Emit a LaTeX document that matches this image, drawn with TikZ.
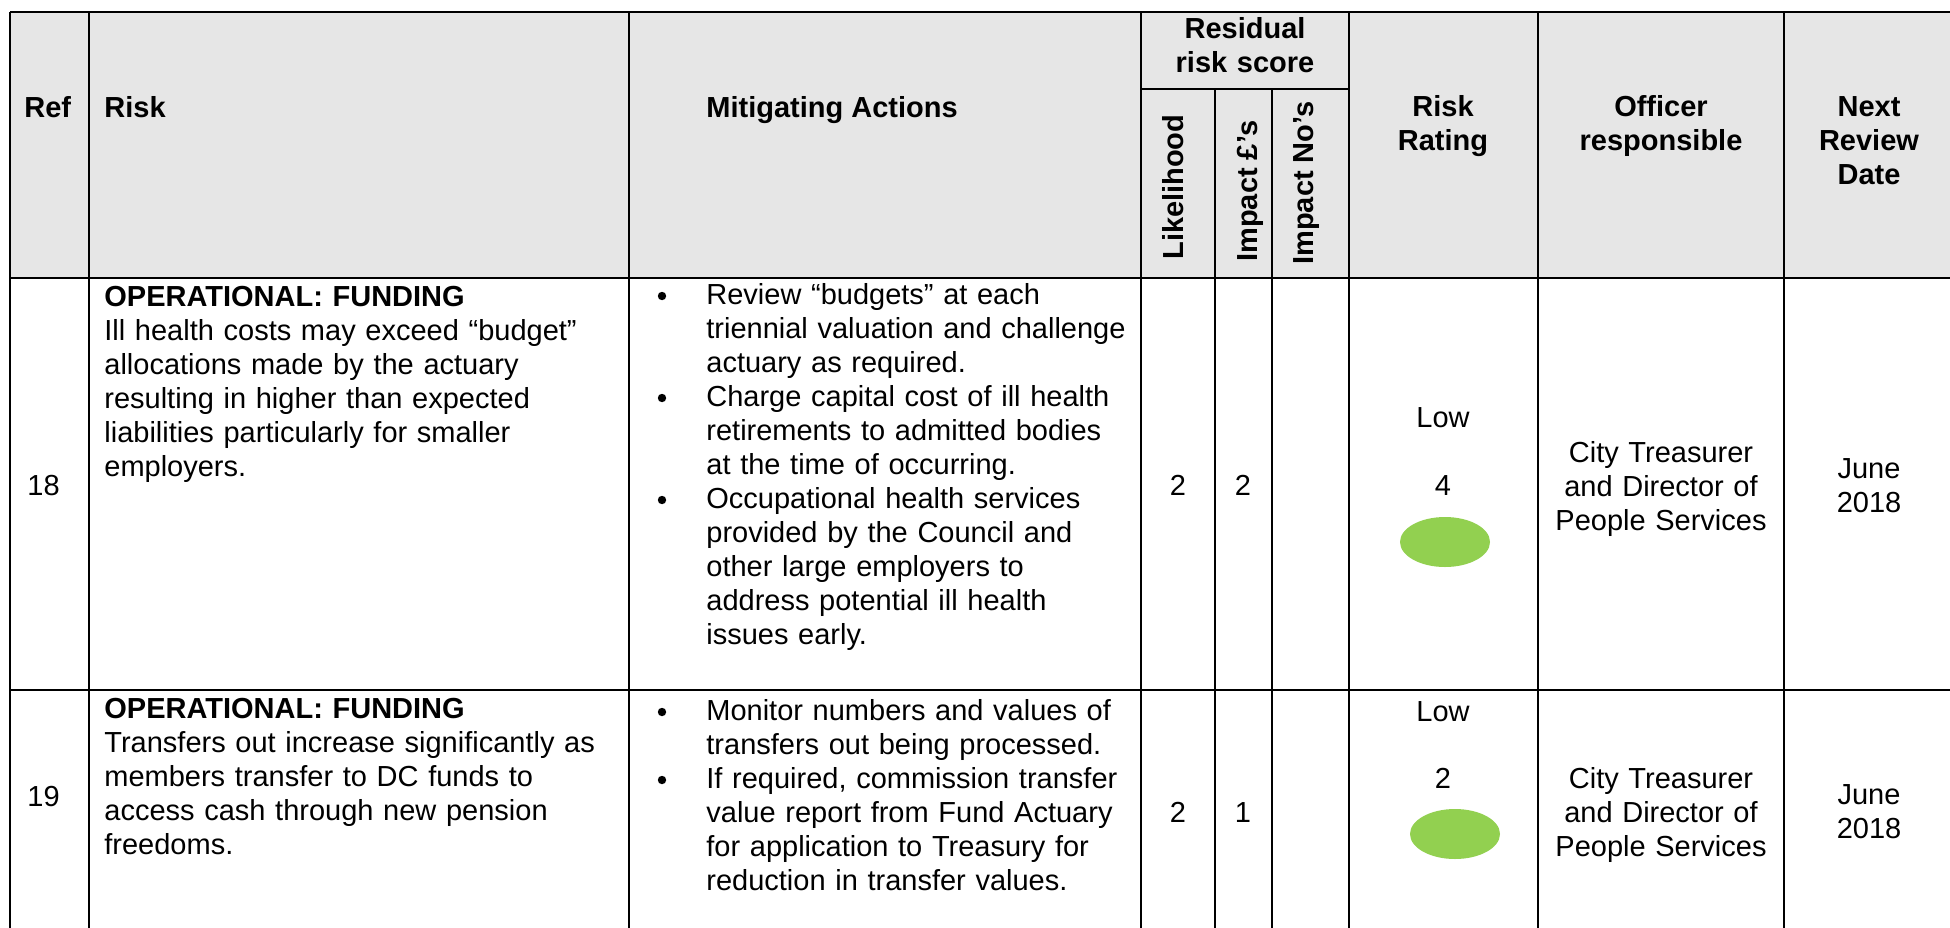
\documentclass[tikz,border=0pt]{standalone}
\usepackage{fontspec}
\setmainfont{Liberation Sans}
\usetikzlibrary{shapes.geometric}
\definecolor{hdrgray}{RGB}{230,230,230}
\definecolor{lowgreen}{RGB}{146,208,80}
\newcommand\tfs{\fontsize{14.5pt}{17pt}\selectfont}
\begin{document}
\begin{tikzpicture}[x=0.5pt,y=-0.5pt,
  gridline/.style={line width=1pt, black},
  cell/.style={inner sep=0pt, font=\tfs},
  hd/.style={cell, font=\tfs\bfseries},
  para/.style={cell, anchor=base west, align=left, text width=300pt},
  ctr/.style={cell, anchor=base, align=center, text width=120pt},
  hctr/.style={ctr, font=\tfs\bfseries},
  vhd/.style={hd, rotate=90, anchor=base west},
  bul/.style={circle, fill=black, draw=none, inner sep=0pt, minimum size=4.2pt},
  lowdot/.style={ellipse, fill=lowgreen, draw=none, inner sep=0pt, minimum width=45pt, minimum height=25pt}
]
\clip (0,0) rectangle (1950,927);
\fill[white] (0,0) rectangle (1950,927);
% header background
\fill[hdrgray] (10,12) rectangle (1960,278);
% grid
\draw[gridline] (10,12) -- (1960,12);
\draw[gridline] (10,278) -- (1960,278);
\draw[gridline] (10,690) -- (1960,690);
\draw[gridline] (1141,89) -- (1349,89);
\foreach \xx in {10,89,629,1141,1349,1538,1784}
  \draw[gridline] (\xx,12) -- (\xx,940);
\foreach \xx in {1215,1272}
  \draw[gridline] (\xx,89) -- (\xx,940);

% header texts
\node[hd, anchor=base west] (hRef) at (24,117) {Ref};
\node[hd, anchor=base west] (hRisk) at (104,117) {Risk};
\node[hd, anchor=base west] (hMit) at (706,117) {Mitigating Actions};
\node[hctr] (hRes) at (1245,38) {Residual\\risk score};
\node[vhd] (hLik) at (1183,260) {Likelihood};
\node[vhd] (hImpP) at (1257,262) {Impact £’s};
\node[vhd] (hImpN) at (1313,265) {Impact No’s};
\node[hctr] (hRat) at (1443,116) {Risk\\Rating};
\node[hctr] (hOff) at (1661,116) {Officer\\responsible};
\node[hctr] (hNext) at (1869,116) {Next\\Review\\Date};

% row 18
\node[cell, anchor=base west] (r18ref) at (27,495) {18};
\node[para] (r18risk) at (104,306) {\textbf{OPERATIONAL: FUNDING}\\Ill health costs may exceed “budget”\\allocations made by the actuary\\resulting in higher than expected\\liabilities particularly for smaller\\employers.};
\node[bul] (r18b1) at (662,296) {};
\node[para] (r18m1) at (706,304) {Review “budgets” at each\\triennial valuation and challenge\\actuary as required.};
\node[bul] (r18b2) at (662,398) {};
\node[para] (r18m2) at (706,406) {Charge capital cost of ill health\\retirements to admitted bodies\\at the time of occurring.};
\node[bul] (r18b3) at (662,500) {};
\node[para] (r18m3) at (706,508) {Occupational health services\\provided by the Council and\\other large employers to\\address potential ill health\\issues early.};
\node[ctr] (r18lik) at (1178,495) {2};
\node[ctr] (r18imp) at (1243,495) {2};
\node[ctr] (r18low) at (1443,427) {Low};
\node[ctr] (r18score) at (1443,495) {4};
\node[lowdot] (r18dot) at (1445,542) {};
\node[ctr] (r18off) at (1661,462) {City Treasurer\\and Director of\\People Services};
\node[ctr] (r18date) at (1869,478) {June\\2018};

% row 19
\node[cell, anchor=base west] (r19ref) at (27,806) {19};
\node[para] (r19risk) at (104,718) {\textbf{OPERATIONAL: FUNDING}\\Transfers out increase significantly as\\members transfer to DC funds to\\access cash through new pension\\freedoms.};
\node[bul] (r19b1) at (662,712) {};
\node[para] (r19m1) at (706,720) {Monitor numbers and values of\\transfers out being processed.};
\node[bul] (r19b2) at (662,780) {};
\node[para] (r19m2) at (706,788) {If required, commission transfer\\value report from Fund Actuary\\for application to Treasury for\\reduction in transfer values.};
\node[ctr] (r19lik) at (1178,822) {2};
\node[ctr] (r19imp) at (1243,822) {1};
\node[ctr] (r19low) at (1443,721) {Low};
\node[ctr] (r19score) at (1443,788) {2};
\node[lowdot] (r19dot) at (1455,834) {};
\node[ctr] (r19off) at (1661,788) {City Treasurer\\and Director of\\People Services};
\node[ctr] (r19date) at (1869,804) {June\\2018};
\end{tikzpicture}
\end{document}
